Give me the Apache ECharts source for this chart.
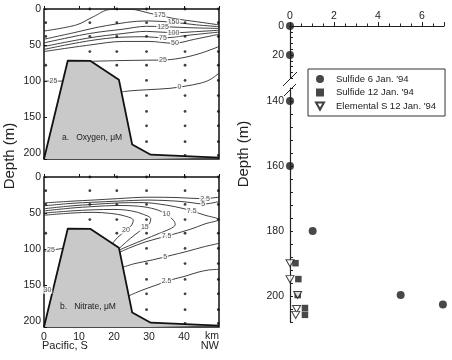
<!DOCTYPE html>
<html>
<head>
<meta charset="utf-8">
<script src="https://cdn.jsdelivr.net/npm/echarts@6/dist/echarts.min.js"></script>
<style>html,body{margin:0;padding:0;background:#fff}#chart{width:452px;height:360px}</style>
</head>
<body>
<div id="chart"></div>
<script>
const FONT = "'Liberation Sans', Arial, sans-serif";

// seamount profile: [km along section, depth m]
const seamount = [[0,208],[6.8,71.5],[13.3,72],[21.4,98],[25.2,188],[30.5,202],[50,206]];

// CTD stations: km position and sampled depths
const stationKm = [0.5, 13.1, 20.8, 29.3, 40.3, 49.8];
const stationDepths = [
  [19, 38, 78],
  [0, 19, 38, 59],
  [0, 19, 38, 59, 78],
  [0, 19, 38, 59, 78, 99, 120, 142, 162, 184],
  [0, 19, 38, 59, 78, 99, 120, 142, 162, 184, 203],
  [0, 19, 38, 59, 78, 99, 120, 142, 162, 184, 203]
];

// oxygen contours (uM)
const oxy175 = [[0,30.5],[9.3,22],[14.1,10.7],[18.9,0.7],[24.6,0.4],[30.3,6],[36.9,13],[43.6,17.6],[50,22]];
const oxy150 = [[0,42],[8.4,33],[17.9,23],[29.3,16.5],[37,18.5],[43.6,22],[50,24.5]];
const oxy125 = [[0,47],[13,34],[22.6,28],[29.3,24],[34,24.5],[42,26],[50,27]];
const oxy100 = [[0,52],[13,40],[22.6,34],[29.3,31],[37,33],[43,31.5],[50,29.5]];
const oxy75 = [[0,56],[13,44],[22.6,39],[29.3,38.5],[34,40],[42,36],[50,32]];
const oxy50 = [[0,59],[13,50],[22.6,45],[30,45],[37,47.5],[43,42],[50,35]];
const oxy25a = [[0,100],[5.4,100]];
const oxy25b = [[13.8,72.5],[22,71.5],[29.3,71],[35,70.5],[40.3,67],[45,61],[50,52]];
const oxy0 = [[22.1,115],[24.6,113.5],[29.3,112],[36,110],[40.3,107],[44.6,103],[47.4,98],[50,89]];
const oxyLabels = [[33.1,9,'175'],[37,18.5,'150'],[34,24.5,'125'],[37,33,'100'],[34,40,'75'],[37.4,47.5,'50'],[34,70.6,'25'],[38.7,108.5,'0'],[2.7,100,'25']];

// nitrate contours (uM)
const nit2_5a = [[0,36],[8,33.5],[14,32],[21,30],[30,28],[38,28.5],[45,30],[50,28]];
const nit5a = [[0,40],[8,36.5],[14,35],[21,33.5],[30,32],[38,33.5],[42,35.5],[45.5,37.5],[50,34]];
const nit7_5 = [[0,44],[8,40],[14,38],[21,36],[28,35.5],[35,39],[40,44],[42.2,47],[46,53],[50,59],[46,65],[41.7,72.7],[35,82],[29,90],[24.6,98],[21.7,104]];
const nit10 = [[0,47],[8,43],[14,41],[21,39.5],[27,40.5],[32,45],[35,52],[37,60],[37.5,66],[36,72],[33,78],[28.5,87],[24.5,95],[21.6,101]];
const nit15 = [[0,50],[8,47],[14,45.5],[20,45],[25,47],[28.5,52],[30.5,58],[30,66],[28.5,71],[26,80],[23.5,90],[21.5,99]];
const nit20 = [[0,53],[8,50],[14,49],[19,50.5],[23,54],[25.5,60],[25,67],[23.4,74],[21,84],[19.6,92]];
const nit5b = [[22.6,125],[26,120],[31,115],[36,109],[41,103],[45.5,97],[50,92]];
const nit2_5b = [[24.1,165],[28,157],[32,150],[36,143],[40,138],[44,132],[47,129],[50,128]];
const nit25 = [[0,103],[5.4,99]];
const nit30 = [[0,158],[2.6,156]];
const nitLabels = [[46,30,'2.5'],[45.5,37.5,'5'],[42.2,47,'7.5'],[35,52,'10'],[28.8,70,'15'],[23.4,74,'20'],[35,82,'7.5'],[34.6,110.7,'5'],[35,144.7,'2.5'],[2,101,'25'],[1,157,'30']];

// sulfide profiles, right panel
const sulf6Conc = [0, 0, 0, 0, 1.03, 5.03, 6.95];
const sulf6Depth = [0, 20, 140, 160, 180, 199.7, 202.6];
const sulf12Conc = [0.25, 0.38, 0.35, 0.68, 0.68];
const sulf12Depth = [189.9, 194.8, 199.7, 203.7, 205.8];
const elemSConc = [0, 0, 0.35, 0.3, 0.26];
const elemSDepth = [189.9, 194.8, 199.7, 204, 205.8];

const legendNames = ["Sulfide 6 Jan. '94", "Sulfide 12 Jan. '94", "Elemental S 12 Jan. '94"];
const triDown = 'path://M0,0L10,0L5,9Z';

const stations = [];
stationKm.forEach((km, i) => stationDepths[i].forEach(d => stations.push([km, d])));

const zip = (xs, ys) => xs.map((x, i) => [x, ys[i]]);
const sulf6 = zip(sulf6Conc, sulf6Depth);

let chart = echarts.init(document.getElementById('chart'));

const contour = (data, gi) => ({
  type: 'line', data, xAxisIndex: gi, yAxisIndex: gi, symbol: 'none', smooth: 0.35,
  lineStyle: { color: '#2a2a2a', width: 0.9 }, silent: true, z: 2
});
const labelSeries = (labels, gi) => ({
  type: 'scatter', xAxisIndex: gi, yAxisIndex: gi, symbolSize: 1,
  itemStyle: { color: 'rgba(0,0,0,0)' }, z: 6, silent: true,
  data: labels.map(l => ({ name: l[2], value: [l[0], l[1]] })),
  label: { show: true, position: 'inside', formatter: '{b}', fontSize: 7, color: '#222',
    backgroundColor: '#fff', padding: [0, 1], fontFamily: FONT }
});
const seamountSeries = gi => ({
  type: 'line', data: seamount, xAxisIndex: gi, yAxisIndex: gi, symbol: 'none',
  lineStyle: { color: '#111', width: 1.8 },
  areaStyle: { color: '#c9c9c9', opacity: 1, origin: 'end' }, z: 4, silent: true
});
const dotSeries = gi => ({
  type: 'scatter', data: stations, xAxisIndex: gi, yAxisIndex: gi, symbolSize: 2.8,
  itemStyle: { color: '#111' }, z: 3, silent: true, clip: false
});

const leftX = (gi, showLabels) => ({
  type: 'value', gridIndex: gi, min: 0, max: 50, interval: 10,
  axisLine: { show: false }, splitLine: { show: false },
  axisTick: { show: true, inside: true, length: 3, lineStyle: { color: '#111' } },
  axisLabel: { show: showLabels, color: '#222', fontSize: 10.5, margin: 5, fontFamily: FONT,
    formatter: v => (v <= 40 && v % 10 === 0) ? String(v) : '' }
});
const leftY = gi => ({
  type: 'value', gridIndex: gi, inverse: true, min: 0, max: 208, interval: 50,
  axisLine: { show: false }, splitLine: { show: false },
  axisTick: { show: true, inside: true, length: 3, lineStyle: { color: '#111' } },
  axisLabel: { color: '#222', fontSize: 10.5, margin: 3, fontFamily: FONT,
    formatter: v => v % 50 === 0 ? String(v) : '' }
});

chart.setOption({
  animation: false,
  textStyle: { fontFamily: FONT },
  grid: [
    { left: 44, top: 9, width: 175, height: 150, show: true, borderColor: '#111', borderWidth: 1.5, backgroundColor: 'transparent' },
    { left: 44, top: 177, width: 175, height: 150, show: true, borderColor: '#111', borderWidth: 1.5, backgroundColor: 'transparent' },
    { left: 290, top: 26, width: 154, height: 52.2 },
    { left: 290, top: 88, width: 154, height: 234 }
  ],
  xAxis: [
    leftX(0, false),
    leftX(1, true),
    {
      type: 'value', gridIndex: 2, position: 'top', min: 0, max: 7, interval: 2,
      axisLine: { show: true, onZero: false, lineStyle: { color: '#222', width: 1.2 } },
      axisTick: { show: true, length: 4, lineStyle: { color: '#222' } },
      minorTick: { show: true, splitNumber: 4, length: 2.5, lineStyle: { color: '#222' } },
      splitLine: { show: false },
      axisLabel: { color: '#222', fontSize: 10.5, margin: 4, fontFamily: FONT,
        formatter: v => v % 2 === 0 ? String(v) : '' }
    },
    { type: 'value', gridIndex: 3, min: 0, max: 7, show: false }
  ],
  yAxis: [
    leftY(0),
    leftY(1),
    {
      type: 'value', gridIndex: 2, inverse: true, min: 0, max: 36, interval: 4,
      axisLine: { show: true, onZero: false, lineStyle: { color: '#222', width: 1.2 } },
      axisTick: { show: true, inside: true, length: 3, lineStyle: { color: '#222' } },
      splitLine: { show: false },
      axisLabel: { color: '#222', fontSize: 10.5, margin: 6, fontFamily: FONT,
        formatter: v => (v === 0 || v === 20) ? String(v) : '' }
    },
    {
      type: 'value', gridIndex: 3, inverse: true, min: 136, max: 208, interval: 4,
      axisLine: { show: true, onZero: false, lineStyle: { color: '#222', width: 1.2 } },
      axisTick: { show: true, inside: true, length: 3, lineStyle: { color: '#222' } },
      splitLine: { show: false },
      axisLabel: { color: '#222', fontSize: 10.5, margin: 6, fontFamily: FONT,
        formatter: v => v % 20 === 0 ? String(v) : '' }
    }
  ],
  legend: {
    left: 308, top: 69, orient: 'vertical',
    data: [
      { name: legendNames[0], icon: 'circle' },
      { name: legendNames[1], icon: 'rect' },
      { name: legendNames[2], icon: triDown }
    ],
    itemWidth: 8, itemHeight: 8, itemGap: 3.5,
    padding: [5, 9, 5, 7], borderColor: '#333', borderWidth: 1, borderRadius: 0,
    backgroundColor: '#fff',
    textStyle: { fontSize: 9.5, color: '#222', padding: [0, 0, 0, 7], fontFamily: FONT },
    selectedMode: false
  },
  series: [
    seamountSeries(0),
    contour(oxy175, 0), contour(oxy150, 0), contour(oxy125, 0), contour(oxy100, 0),
    contour(oxy75, 0), contour(oxy50, 0), contour(oxy25a, 0), contour(oxy25b, 0), contour(oxy0, 0),
    dotSeries(0),
    labelSeries(oxyLabels, 0),

    seamountSeries(1),
    contour(nit2_5a, 1), contour(nit5a, 1), contour(nit7_5, 1), contour(nit10, 1),
    contour(nit15, 1), contour(nit20, 1), contour(nit5b, 1), contour(nit2_5b, 1),
    contour(nit25, 1), contour(nit30, 1),
    dotSeries(1),
    labelSeries(nitLabels, 1),

    {
      name: legendNames[0], type: 'scatter', xAxisIndex: 2, yAxisIndex: 2, clip: false,
      data: sulf6.filter(p => p[1] <= 36), symbol: 'circle', symbolSize: 8,
      itemStyle: { color: '#1a1a1a' }, z: 5
    },
    {
      name: legendNames[0], type: 'scatter', xAxisIndex: 3, yAxisIndex: 3, clip: false,
      data: sulf6.filter(p => p[1] >= 136), symbol: 'circle', symbolSize: 8,
      itemStyle: { color: '#1a1a1a' }, z: 5
    },
    {
      name: legendNames[1], type: 'scatter', xAxisIndex: 3, yAxisIndex: 3, clip: false,
      data: zip(sulf12Conc, sulf12Depth), symbol: 'rect', symbolSize: 6.5,
      itemStyle: { color: '#1a1a1a' }, z: 5
    },
    {
      name: legendNames[2], type: 'scatter', xAxisIndex: 3, yAxisIndex: 3, clip: false,
      data: zip(elemSConc, elemSDepth), symbol: triDown, symbolSize: [8, 7],
      itemStyle: { color: '#fff', borderColor: '#111', borderWidth: 1 }, z: 6
    }
  ],
  graphic: [
    { type: 'text', x: 10, y: 156, rotation: Math.PI / 2,
      style: { text: 'Depth (m)', font: '15px ' + FONT, fill: '#222', textAlign: 'center', textVerticalAlign: 'middle' } },
    { type: 'text', x: 244, y: 154, rotation: Math.PI / 2,
      style: { text: 'Depth (m)', font: '15px ' + FONT, fill: '#222', textAlign: 'center', textVerticalAlign: 'middle' } },
    { type: 'text', x: 62, y: 138, z: 10,
      style: { text: 'a.   Oxygen, \u03bcM', font: '8.5px ' + FONT, fill: '#222', textVerticalAlign: 'middle' } },
    { type: 'text', x: 60, y: 307, z: 10,
      style: { text: 'b.   Nitrate, \u03bcM', font: '8.5px ' + FONT, fill: '#222', textVerticalAlign: 'middle' } },
    { type: 'text', x: 42, y: 346,
      style: { text: 'Pacific, S', font: '11px ' + FONT, fill: '#222', textVerticalAlign: 'middle' } },
    { type: 'text', x: 219, y: 346,
      style: { text: 'NW', font: '11px ' + FONT, fill: '#222', textAlign: 'right', textVerticalAlign: 'middle' } },
    { type: 'text', x: 219, y: 336,
      style: { text: 'km', font: '10.5px ' + FONT, fill: '#222', textAlign: 'right', textVerticalAlign: 'middle' } },
    { type: 'line', shape: { x1: 283, y1: 86, x2: 297, y2: 72 }, style: { stroke: '#222', lineWidth: 1 } },
    { type: 'line', shape: { x1: 284, y1: 96, x2: 296, y2: 84 }, style: { stroke: '#222', lineWidth: 1 } }
  ]
});
</script>
</body>
</html>
